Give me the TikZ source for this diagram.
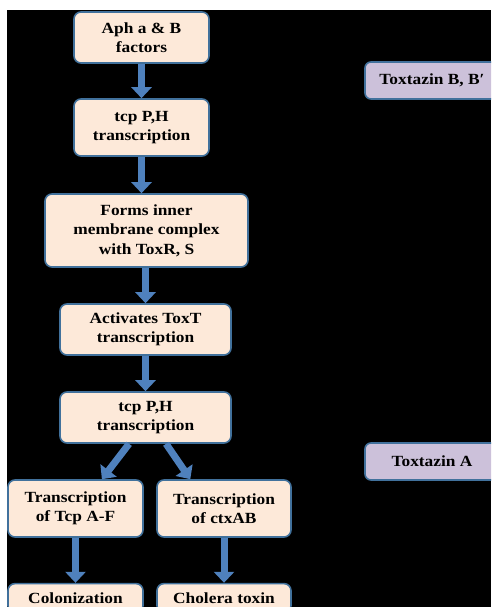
\documentclass[tikz,border=0pt]{standalone}
\usepackage{fontspec}
\setmainfont{Liberation Serif}[FakeStretch=1.12]
\usepackage{tikz}
\usetikzlibrary{arrows.meta,positioning}
\definecolor{boxfill}{HTML}{FDE9D9}
\definecolor{boxline}{HTML}{41719C}
\definecolor{toxfill}{HTML}{CCC1DA}
\definecolor{arrowblue}{HTML}{4F81BD}
\tikzset{
    proc/.style={
    rectangle,rounded corners=7pt,draw=boxline,line width=1.6pt,fill=boxfill,
    align=center,font=\fontsize{15.5}{19.5}\selectfont\bfseries,inner sep=0pt
    },
    toxbox/.style={
    rectangle,rounded corners=6pt,draw=boxline,line width=1.6pt,fill=toxfill,
    minimum width=134pt,minimum height=37pt,
    font=\fontsize{15.5}{19.5}\selectfont\bfseries,inner sep=0pt
    },
    flow/.style={
    -{Triangle[width=20pt,length=11pt]},line width=7pt,color=arrowblue
    },
}

\begin{document}
\begin{tikzpicture}[x=1pt, y=-1pt]
   \clip (0,0) rectangle (491,607);
   \fill[black] (7,10) rectangle (491,607);
   % main column
   \node[proc,minimum width=135pt,minimum height=51pt] (aph) at (141.5,37.5) {Aph a \& B\\factors};
   \node[proc,minimum width=135pt,minimum height=57pt] (tcp1) at (141.5,127.5) {tcp P,H\\transcription};
   \node[proc,minimum width=203pt,minimum height=73pt] (mem) at (146.5,230.5) {Forms inner\\membrane complex\\with ToxR, S};
   \node[proc,minimum width=171pt,minimum height=51pt] (toxt) at (145.5,329.5) {Activates ToxT\\transcription};
   \node[proc,minimum width=171pt,minimum height=51pt] (tcp2) at (145.5,417.5) {tcp P,H\\transcription};
   % two branches
   \node[proc,minimum width=135pt,minimum height=57pt] (trA) at (75.5,508.5) {Transcription\\of Tcp A-F};
   \node[proc,minimum width=134pt,minimum height=57pt] (trB) at (224,508.5) {Transcription\\of ctxAB};
   \node[proc,minimum width=135pt,minimum height=29pt,below=45pt of trA] (col) {Colonization};
   \node[proc,minimum width=134pt,minimum height=29pt,below=45pt of trB] (chol) {Cholera toxin};
   % side labels
   \node[toxbox] (tzB) at (432,80.5) {Toxtazin B, B′};
   \node[toxbox] (tzA) at (432,461.5) {Toxtazin A};

  \path[flow]
    (aph) edge (tcp1)
    (tcp1.south) edge (tcp1.south |- mem.north)
    (mem.south -| toxt.north) edge (toxt)
    (toxt) edge (tcp2)
    (tcp2.238) edge (trA.48)
    (tcp2.308) edge (trB.139)
    (trA) edge (col)
    (trB) edge (chol);
\end{tikzpicture}
\end{document}
